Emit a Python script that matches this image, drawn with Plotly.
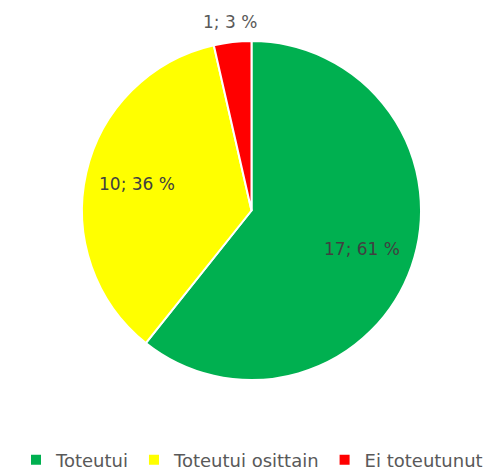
import math
import plotly.graph_objects as go

categories = ["Toteutui", "Toteutui osittain", "Ei toteutunut"]
values = [17, 10, 1]
percent_labels = ["61 %", "36 %", "3 %"]
colors = ["#00B050", "#FFFF00", "#FF0000"]
label_colors = ["#404040", "#404040", "#595959"]
label_radius = [0.69, 0.69, 1.12]

W, H = 493, 473
OFF = 8  # page body margin
cx, cy, R = 251.5 - OFF, 210.5 - OFF, 169.5  # pie centre / radius in figure pixels

fig = go.Figure(go.Pie(
    labels=categories,
    values=values,
    sort=False,
    direction="clockwise",
    rotation=0,
    marker=dict(colors=colors, line=dict(color="white", width=2)),
    textinfo="none",
    domain=dict(x=[(cx - R) / W, (cx + R) / W], y=[1 - (cy + R) / H, 1 - (cy - R) / H]),
    hoverinfo="label+value+percent",
))

total = sum(values)
cum = 0
for v, p, c, rf in zip(values, percent_labels, label_colors, label_radius):
    mid = (cum + v / 2) / total * 2 * math.pi
    cum += v
    px = cx + math.sin(mid) * R * rf
    py = cy - math.cos(mid) * R * rf
    fig.add_annotation(
        x=px / W, y=1 - py / H, xref="paper", yref="paper",
        xanchor="center", yanchor="middle",
        text=f"{v}; {p}", showarrow=False,
        font=dict(family="DejaVu Sans", size=17, color=c),
    )

fig.update_layout(
    width=W, height=H,
    margin=dict(l=0, r=0, t=0, b=0),
    paper_bgcolor="white",
    showlegend=True,
    legend=dict(orientation="h", x=(252 - OFF) / W, xanchor="center",
                y=1 - (460 - OFF) / H, yanchor="middle",
                font=dict(family="DejaVu Sans", size=18, color="#595959"),
                itemwidth=30, traceorder="normal"),
)
fig.write_html("out.html")
